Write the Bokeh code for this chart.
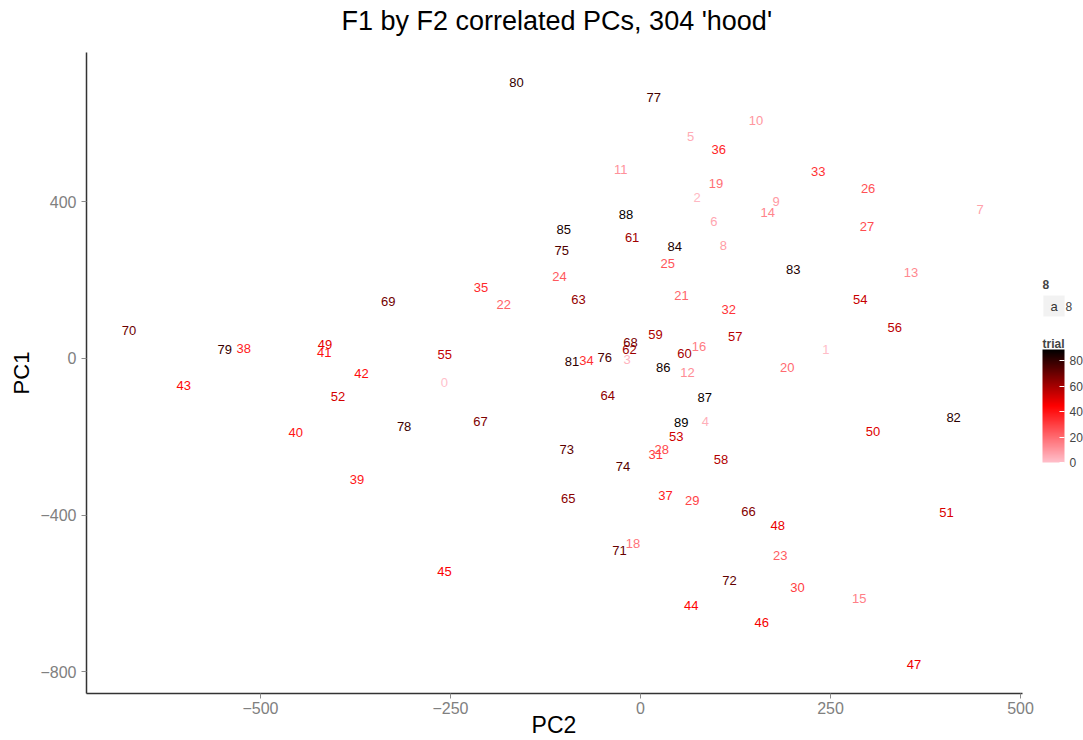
from bokeh.plotting import figure
from bokeh.models import (ColumnDataSource, LinearColorMapper, ColorBar, FixedTicker,
                          CustomJSTickFormatter, Range1d, Label, Title)
from bokeh.transform import transform
from bokeh.core.properties import value
from bokeh.embed import file_html
from bokeh.resources import INLINE

# ---------------- data ----------------
trial = [0, 1, 2, 3, 4, 5, 6, 7, 8, 9, 10, 11, 12, 13, 14, 15, 16, 18, 19, 20,
         21, 22, 23, 24, 25, 26, 27, 28, 29, 30, 31, 32, 33, 34, 35, 36, 37, 38, 39, 40,
         41, 42, 43, 44, 45, 46, 47, 48, 49, 50, 51, 52, 53, 54, 55, 56, 57, 58, 59, 60,
         61, 62, 63, 64, 65, 66, 67, 68, 69, 70, 71, 72, 73, 74, 75, 76, 77, 78, 79, 80,
         81, 82, 83, 84, 85, 86, 87, 88, 89]
pc2 = [-258, 244, 74.5, -17.5, 85.5, 66, 96.5, 447, 109, 178.5, 152, -26, 62, 356, 167.5, 287.7, 77, -10, 99.5, 193,
       54, -180, 184, -106.5, 36, 299.5, 298, 28, 68, 206.6, 20, 116, 234, -71, -210, 103, 33, -522, -373, -453.5,
       -416, -367, -601, 66.7, -258, 159.6, 360, 180.7, -415, 306, 402.6, -398, 47, 289, -257.5, 334.6, 124.6, 106, 19.7, 58,
       -11, -14.5, -81.5, -43, -95, 142, -210.5, -13, -332, -673, -27.6, 117, -97, -23, -103.5, -47, 17.5, -311, -547, -163,
       -90, 412, 201, 45, -101, 30, 84.6, -19, 53.5]
pc1 = [-61, 23, 410, -4, -161.5, 567, 348, 380, 288, 400, 608, 481.5, -36, 219, 371, -612, 31, -472, 445, -23,
       159.5, 137, -503, 210, 242, 433, 336, -232, -364, -584, -245.6, 125, 478, -6, 180, 532, -349, 24, -308, -190,
       14, -38, -69, -630, -544, -673.6, -782, -426, 36, -187, -393, -98, -200, 150, 9, 79, 56, -257, 60, 12.7,
       308, 23, 150, -95, -357, -391, -161.5, 40, 145, 70, -490, -566, -233, -276, 274, 2.5, 665, -174, 23, 705,
       -7, -151, 227, 285, 330, -23, -99, 367, -164]
x_ticks = [-500, -250, 0, 250, 500]
y_ticks = [-800, -400, 0, 400]
cbar_ticks = [0, 20, 40, 60, 80]
title_text = "F1 by F2 correlated PCs, 304 'hood'"
x_title = "PC2"
y_title = "PC1"
legend_title = "8"
legend_key = "a"
legend_label = "8"
cbar_title = "trial"
grad_low, grad_mid, grad_high = (255, 192, 203), (255, 0, 0), (0, 0, 0)   # pink, red, black

FONT = "Liberation Sans"

# ------------- gradient palette: pink -> red (midpoint) -> black -------------
palette = []
N = 256
for i in range(N):
    t = i / (N - 1)
    if t <= 0.5:
        u, A, B = t / 0.5, grad_low, grad_mid
    else:
        u, A, B = (t - 0.5) / 0.5, grad_mid, grad_high
    palette.append("#%02x%02x%02x" % tuple(int(round(A[k] + (B[k] - A[k]) * u)) for k in range(3)))

mapper = LinearColorMapper(palette=palette, low=min(trial), high=max(trial))

# ---------------- figure ----------------
p = figure(width=1083, height=740, output_backend="svg", toolbar_location=None,
           x_range=Range1d(-728.9, 582.9), y_range=Range1d(-855.3, 780.4),
           min_border_left=86, min_border_right=0, min_border_top=52, min_border_bottom=46)
p.title.text = ""
p.title.standoff = 0
p.title.text_font_size = "1px"

# spacer (nearest the frame) then the real title above it
p.add_layout(Title(text="\u00a0", text_font_size="12px", standoff=1,
                   text_color="white"), "above")
p.add_layout(Title(text=title_text, align="left", offset=255, standoff=0,
                   vertical_align="bottom", text_font=FONT, text_font_size="27px",
                   text_font_style="normal", text_color="black"), "above")

p.xgrid.visible = False
p.ygrid.visible = False
p.outline_line_color = None
p.background_fill_color = "white"
p.border_fill_color = "white"

fmt = CustomJSTickFormatter(code="return tick < 0 ? '\\u2212' + (-tick) : '' + tick;")
for ax in (p.xaxis[0], p.yaxis[0]):
    ax.formatter = fmt
    ax.axis_line_color = "#333333"
    ax.axis_line_width = 1.5
    ax.major_tick_line_color = "#8c8c8c"
    ax.major_tick_out = 5
    ax.major_tick_in = 0
    ax.minor_tick_line_color = None
    ax.major_label_text_color = "#808080"
    ax.major_label_text_font = FONT
    ax.major_label_text_font_size = "16px"
    ax.axis_label_text_font = FONT
    ax.axis_label_text_font_style = "normal"
    ax.axis_label_text_color = "black"

p.xaxis.ticker = FixedTicker(ticks=x_ticks)
p.yaxis.ticker = FixedTicker(ticks=y_ticks)
p.xaxis.bounds = (-728.9, 502.6)
# trailing fixed-width spaces move the centre of "PC2" over the panel (ggplot centres it there)
p.xaxis.axis_label = x_title + "\u2003\u2003\u2002\u2009"
p.yaxis.axis_label = y_title
p.xaxis.major_label_standoff = 3
p.yaxis.major_label_standoff = 5
p.xaxis.axis_label_text_font_size = "23px"
p.yaxis.axis_label_text_font_size = "22px"
p.xaxis.axis_label_standoff = -5
p.yaxis.axis_label_standoff = 3

src = ColumnDataSource(dict(pc2=pc2, pc1=pc1, trial=trial, label=[str(t) for t in trial]))
p.text(x="pc2", y="pc1", text="label", source=src,
       text_color=transform("trial", mapper), text_align="center", text_baseline="middle",
       text_font=value(FONT), text_font_size="13px")

# ---------------- legends ----------------
cb = ColorBar(color_mapper=mapper, ticker=FixedTicker(ticks=cbar_ticks),
              width=22, height=113, location=(956, 231),
              major_label_text_font=FONT, major_label_text_font_size="12px",
              major_tick_line_color="white", major_tick_in=5, major_tick_out=0,
              minor_tick_line_color=None, bar_line_color=None, border_line_color=None,
              background_fill_alpha=0, padding=0, margin=0, label_standoff=5)
p.add_layout(cb)

p.add_layout(Label(x=956, y=350, x_units="screen", y_units="screen", text=cbar_title,
                   text_font=FONT, text_font_size="12px", text_font_style="bold",
                   text_baseline="middle"))
p.add_layout(Label(x=956, y=409, x_units="screen", y_units="screen", text=legend_title,
                   text_font=FONT, text_font_size="12px", text_font_style="bold",
                   text_baseline="middle"))
p.add_layout(Label(x=967.5, y=387.5, x_units="screen", y_units="screen", text=legend_key,
                   text_font=FONT, text_font_size="13px", text_color="#333333",
                   text_align="center", text_baseline="middle",
                   background_fill_color="#f2f2f2", padding=(7, 3)))
p.add_layout(Label(x=979, y=387.5, x_units="screen", y_units="screen", text=legend_label,
                   text_font=FONT, text_font_size="12px",
                   text_baseline="middle"))

open("out.html", "w").write(file_html(p, INLINE))
